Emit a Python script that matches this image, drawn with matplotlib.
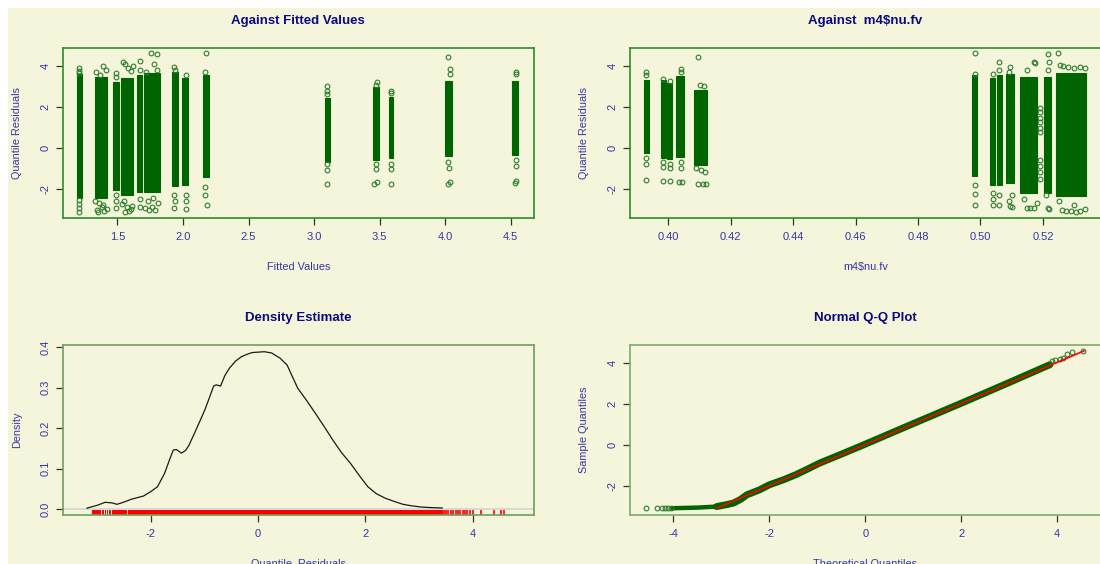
import matplotlib
matplotlib.use("Agg")
import matplotlib.pyplot as plt
from matplotlib.patches import Rectangle

plt.rcParams['font.family'] = ['Liberation Sans', 'DejaVu Sans']

# ---------------- data ----------------
# Panel 1: residuals against fitted values (dense bands + sparse extreme points)
fv_lo = [1.193, 1.331, 1.468, 1.527, 1.646, 1.702, 1.913, 1.994, 2.155, 3.087, 3.447, 3.573, 4.000, 4.510]
fv_hi = [1.229, 1.418, 1.509, 1.620, 1.689, 1.824, 1.964, 2.040, 2.196, 3.118, 3.496, 3.605, 4.055, 4.558]
fv_res_lo = [-2.45, -2.45, -2.06, -2.30, -2.14, -2.15, -1.89, -1.80, -1.45, -0.67, -0.59, -0.50, -0.42, -0.34]
fv_res_hi = [3.60, 3.45, 3.25, 3.41, 3.57, 3.65, 3.73, 3.41, 3.57, 2.43, 3.00, 2.51, 3.30, 3.30]
fv_out_x = [1.21, 1.21, 1.21, 1.21, 1.21, 1.21, 1.21,
            1.34, 1.37, 1.39, 1.41, 1.36, 1.38, 1.40, 1.35, 1.42, 1.39, 1.33, 1.345,
            1.49, 1.49, 1.49, 1.49, 1.49,
            1.54, 1.56, 1.58, 1.60, 1.62, 1.55, 1.57, 1.59, 1.61, 1.56, 1.535, 1.60,
            1.67, 1.67, 1.67, 1.67,
            1.759, 1.802, 1.78, 1.72, 1.80, 1.73, 1.76, 1.79, 1.81, 1.74, 1.71, 1.77,
            1.93, 1.94, 1.93, 1.94, 1.93,
            2.02, 2.02, 2.02, 2.02,
            2.177, 2.17, 2.17, 2.17, 2.18,
            3.10, 3.10, 3.10, 3.10, 3.10, 3.10,
            3.48, 3.47, 3.47, 3.47, 3.46, 3.48,
            3.59, 3.59, 3.59, 3.59, 3.59,
            4.021, 4.04, 4.04, 4.02, 4.03, 4.02, 4.04,
            4.54, 4.54, 4.54, 4.54, 4.53, 4.54]
fv_out_y = [3.90, 3.75, 3.65, -2.55, -2.75, -2.95, -3.12,
            3.70, 3.55, 4.00, 3.80, -2.70, -2.90, -3.10, -3.15, -3.00, -2.80, -2.60, -3.05,
            3.65, 3.45, -2.30, -2.60, -2.95,
            4.20, 4.10, 3.90, 3.75, 4.00, -2.60, -2.90, -3.10, -2.85, -3.12, -2.75, -3.00,
            4.25, 3.80, -2.50, -2.90,
            4.63, 4.60, 4.10, 3.70, 3.80, -2.60, -2.90, -3.05, -2.70, -3.05, -2.95, -2.45,
            3.95, 3.80, -2.30, -2.60, -2.95,
            3.55, -2.30, -2.60, -3.00,
            4.63, 3.70, -1.90, -2.30, -2.80,
            3.03, 2.80, 2.65, -0.80, -1.10, -1.76,
            3.25, 3.10, -0.80, -1.05, -1.76, -1.65,
            2.80, 2.70, -0.80, -1.05, -1.76,
            4.44, 3.85, 3.60, -0.70, -1.00, -1.76, -1.65,
            3.72, 3.60, -0.60, -0.90, -1.70, -1.60]

# Panel 2: residuals against m4$nu.fv
nu_lo = [0.3922, 0.3976, 0.3996, 0.4026, 0.4082, 0.4974, 0.5031, 0.5052, 0.5082, 0.5127, 0.5204, 0.5242]
nu_hi = [0.3938, 0.3992, 0.4012, 0.4051, 0.4125, 0.4990, 0.5047, 0.5068, 0.5108, 0.5182, 0.5225, 0.5338]
nu_res_lo = [-0.26, -0.50, -0.55, -0.45, -0.85, -1.40, -1.81, -1.81, -1.70, -2.22, -2.22, -2.38]
nu_res_hi = [3.33, 3.33, 3.20, 3.50, 2.84, 3.57, 3.41, 3.57, 3.60, 3.45, 3.49, 3.65]
nu_out_x = [0.3930, 0.3930, 0.3930, 0.3930, 0.3930,
            0.3983, 0.3983, 0.3983, 0.3983, 0.4004, 0.4004, 0.4004, 0.4004,
            0.4040, 0.4040, 0.4040, 0.4040, 0.4035, 0.4045,
            0.4095, 0.4100, 0.4115, 0.4090, 0.4105, 0.4118, 0.4095, 0.4110, 0.4120,
            0.4982, 0.4982, 0.4982, 0.4982, 0.4982,
            0.5039, 0.5039, 0.5039, 0.5039,
            0.5060, 0.5060, 0.5060, 0.5060,
            0.5095, 0.5090, 0.5100, 0.5090, 0.5095, 0.5100,
            0.5150, 0.5170, 0.5175, 0.5140, 0.5150, 0.5160, 0.5170, 0.5180,
            0.5191, 0.5191, 0.5191, 0.5191, 0.5191, 0.5191, 0.5191, 0.5191, 0.5191, 0.5191,
            0.5217, 0.5218, 0.5215, 0.5210, 0.5215, 0.5220,
            0.5247, 0.5255, 0.5265, 0.5280, 0.5300, 0.5320, 0.5335,
            0.5250, 0.5260, 0.5275, 0.5290, 0.5305, 0.5320, 0.5335, 0.5300]
nu_out_y = [3.70, 3.55, -0.50, -0.80, -1.55,
            3.40, -0.70, -0.95, -1.60, 3.30, -0.80, -1.00, -1.62,
            3.85, 3.70, -0.70, -1.00, -1.68, -1.68,
            4.44, 3.10, 3.05, -1.00, -1.10, -1.18, -1.76, -1.76, -1.76,
            4.63, 3.60, -1.80, -2.25, -2.79,
            3.60, -2.20, -2.50, -2.79,
            4.22, 3.80, -2.30, -2.82,
            3.98, 3.70, -2.30, -2.60, -2.87, -2.90,
            3.80, 4.22, 4.15, -2.50, -2.95, -2.95, -2.95, -2.70,
            1.94, 1.78, 1.45, 1.28, 0.96, 0.80, -0.60, -0.90, -1.20, -1.50,
            4.60, 4.22, 3.80, -2.30, -2.95, -3.00,
            4.63, 4.05, 4.00, 3.95, 3.90, 3.95, 3.90,
            -2.60, -3.05, -3.10, -3.10, -3.12, -3.10, -3.00, -2.80]

# Panel 3: density estimate of quantile residuals
dens_x = [-3.19, -3.0, -2.85, -2.72, -2.63, -2.5, -2.365, -2.136, -2.0, -1.875, -1.743,
          -1.65, -1.58, -1.52, -1.43, -1.35, -1.287, -1.156, -0.993, -0.9, -0.829, -0.78,
          -0.70, -0.62, -0.536, -0.42, -0.307, -0.2, -0.11, 0.0, 0.118, 0.25, 0.41, 0.54,
          0.64, 0.737, 0.9, 1.065, 1.23, 1.39, 1.55, 1.72, 1.9, 2.045, 2.2, 2.37, 2.55,
          2.70, 2.85, 3.024, 3.2, 3.43]
dens_y = [0.002, 0.009, 0.0165, 0.015, 0.0115, 0.017, 0.024, 0.032, 0.043, 0.055, 0.088,
          0.122, 0.146, 0.147, 0.138, 0.145, 0.158, 0.196, 0.245, 0.278, 0.304, 0.307,
          0.304, 0.33, 0.348, 0.366, 0.377, 0.383, 0.387, 0.388, 0.389, 0.386, 0.373, 0.356,
          0.327, 0.299, 0.269, 0.237, 0.204, 0.171, 0.140, 0.113, 0.080, 0.055, 0.038, 0.0265,
          0.018, 0.0115, 0.008, 0.005, 0.0035, 0.0025]
# rug: solid stretches (start, end) and isolated ticks
rug_runs = [(-3.10, -2.93), (-2.91, -2.88), (-2.86, -2.84), (-2.82, -2.79), (-2.77, -2.75),
            (-2.73, -2.45), (-2.43, 3.44)]
rug_ticks = [3.47, 3.50, 3.53, 3.60, 3.64, 3.69, 3.73, 3.77, 3.81, 3.86, 3.90, 3.94,
             4.00, 4.16, 4.40, 4.53, 4.58]

# Panel 4: normal Q-Q plot
qq_flat_theo = [-4.02, -3.5, -3.1]
qq_flat_samp = [-3.07, -3.04, -2.99]
qq_theo = [-3.1, -2.9, -2.75, -2.6, -2.47, -2.2, -2.0, -1.7, -1.45, -1.2,
           -0.95, -0.5, 0.0, 1.0, 2.0, 3.0, 3.85]
qq_samp = [-2.99, -2.90, -2.82, -2.64, -2.42, -2.17, -1.93, -1.68, -1.44, -1.16,
           -0.87, -0.44, 0.05, 1.05, 2.04, 3.05, 3.92]
qq_out_theo = [-4.57, -4.35, -4.23, -4.17, -4.11, -4.06, 3.90, 3.96, 4.05, 4.12, 4.20, 4.31, 4.54]
qq_out_samp = [-3.07, -3.07, -3.07, -3.07, -3.07, -3.07, 4.10, 4.15, 4.20, 4.25, 4.45, 4.52, 4.59]
qq_line_x = [-3.10, 4.56]
qq_line_y = [-3.07, 4.59]

# ---------------- style ----------------
W, H = 1100, 564
BG = '#F5F5DC'
DKGREEN = '#006400'
TITLE_C = '#0A0A80'
LAB_C = '#3535A8'
TICK_C = '#333333'

fig = plt.figure(figsize=(W / 100, H / 100), dpi=100)
fig.patch.set_facecolor('white')
fig.add_artist(Rectangle((8 / W, 0), 1, (H - 8) / H, transform=fig.transFigure,
                         facecolor=BG, edgecolor='none', zorder=-10))


def make_ax(l, r, t, b, spine_c):
    ax = fig.add_axes([l / W, (H - b) / H, (r - l) / W, (b - t) / H])
    ax.set_facecolor(BG)
    for s in ax.spines.values():
        s.set_color(spine_c)
        s.set_linewidth(1.2)
    ax.tick_params(direction='out', length=4.8, width=0.9, color=TICK_C,
                   labelcolor=LAB_C, labelsize=8)
    ax.tick_params(axis='x', pad=5)
    ax.tick_params(axis='y', pad=4)
    return ax


def decorate(ax, title, xlabel, ylabel):
    ax.annotate(title, xy=(0.5, 1), xycoords='axes fraction', xytext=(0, 19.5),
                textcoords='offset points', ha='center', va='center',
                fontsize=9.5, fontweight='bold', color=TITLE_C)
    ax.annotate(xlabel, xy=(0.5, 0), xycoords='axes fraction', xytext=(0, -35),
                textcoords='offset points', ha='center', va='center',
                fontsize=7.8, color=LAB_C)
    ax.annotate(ylabel, xy=(0, 0.5), xycoords='axes fraction', xytext=(-33, 0),
                textcoords='offset points', ha='center', va='center', rotation=90,
                fontsize=7.8, color=LAB_C)
    for lab in ax.get_yticklabels():
        lab.set_rotation(90)
        lab.set_va('center')


def open_pts(ax, x, y):
    ax.plot(x, y, linestyle='none', marker='o', markersize=3.4, markerfacecolor='none',
            markeredgecolor='#2E7D2E', markeredgewidth=0.8, zorder=3)


# Panel 1
ax1 = make_ax(62.8, 533.9, 48.3, 218.3, '#2E8B2E')
ax1.bar([(a + b) / 2 for a, b in zip(fv_lo, fv_hi)], [h - l for l, h in zip(fv_res_lo, fv_res_hi)],
        width=[b - a for a, b in zip(fv_lo, fv_hi)], bottom=fv_res_lo, color=DKGREEN,
        edgecolor=DKGREEN, linewidth=0.8, zorder=2)
open_pts(ax1, fv_out_x, fv_out_y)
ax1.set_xlim(1.083, 4.677)
ax1.set_ylim(-3.45, 4.88)
ax1.set_xticks([1.5, 2.0, 2.5, 3.0, 3.5, 4.0, 4.5])
ax1.set_xticklabels(['1.5', '2.0', '2.5', '3.0', '3.5', '4.0', '4.5'])
ax1.set_yticks([-2, 0, 2, 4])
ax1.set_yticklabels(['-2', '0', '2', '4'])
decorate(ax1, 'Against Fitted Values', 'Fitted Values', 'Quantile Residuals')

# Panel 2
ax2 = make_ax(629.6, 1101, 48.3, 218.3, '#2E8B2E')
ax2.bar([(a + b) / 2 for a, b in zip(nu_lo, nu_hi)], [h - l for l, h in zip(nu_res_lo, nu_res_hi)],
        width=[b - a for a, b in zip(nu_lo, nu_hi)], bottom=nu_res_lo, color=DKGREEN,
        edgecolor=DKGREEN, linewidth=0.8, zorder=2)
open_pts(ax2, nu_out_x, nu_out_y)
ax2.set_xlim(0.3876, 0.5386)
ax2.set_ylim(-3.45, 4.88)
ax2.set_xticks([0.40, 0.42, 0.44, 0.46, 0.48, 0.50, 0.52])
ax2.set_xticklabels(['0.40', '0.42', '0.44', '0.46', '0.48', '0.50', '0.52'])
ax2.set_yticks([-2, 0, 2, 4])
ax2.set_yticklabels(['-2', '0', '2', '4'])
decorate(ax2, 'Against  m4$nu.fv', 'm4$nu.fv', 'Quantile Residuals')

# Panel 3
ax3 = make_ax(62.8, 533.9, 344.7, 515, '#6E9E5E')
ax3.axhline(0, color='#D3D3D3', linewidth=1.2, zorder=1)
ax3.plot(dens_x, dens_y, color='#1A1A1A', linewidth=0.9, zorder=3)
rug_top = -0.0015
for a, b in rug_runs:
    ax3.fill_between([a, b], [-0.0149, -0.0149], [rug_top, rug_top], color='#FF0000',
                     linewidth=0, zorder=2)
ax3.vlines(rug_ticks, -0.0149, rug_top, color='#FF0000', linewidth=1.2, zorder=2)
ax3.set_xlim(-3.639, 5.138)
ax3.set_ylim(-0.0149, 0.4064)
ax3.set_xticks([-2, 0, 2, 4])
ax3.set_xticklabels(['-2', '0', '2', '4'])
ax3.set_yticks([0.0, 0.1, 0.2, 0.3, 0.4])
ax3.set_yticklabels(['0.0', '0.1', '0.2', '0.3', '0.4'])
decorate(ax3, 'Density Estimate', 'Quantile. Residuals', 'Density')

# Panel 4
ax4 = make_ax(629.6, 1101, 345, 515, '#7DAA6D')
ax4.plot(qq_flat_theo, qq_flat_samp, color=DKGREEN, linewidth=3.2, solid_capstyle='round', zorder=2)
ax4.plot(qq_theo, qq_samp, color=DKGREEN, linewidth=5.0, solid_capstyle='round', zorder=2)
open_pts(ax4, qq_out_theo, qq_out_samp)
ax4.plot(qq_line_x, qq_line_y, color='#FF0000', linewidth=1.2, zorder=4)
ax4.set_xlim(-4.914, 4.914)
ax4.set_ylim(-3.40, 4.876)
ax4.set_xticks([-4, -2, 0, 2, 4])
ax4.set_xticklabels(['-4', '-2', '0', '2', '4'])
ax4.set_yticks([-2, 0, 2, 4])
ax4.set_yticklabels(['-2', '0', '2', '4'])
decorate(ax4, 'Normal Q-Q Plot', 'Theoretical Quantiles', 'Sample Quantiles')

fig.savefig('out.png', dpi=100, facecolor=fig.get_facecolor())
